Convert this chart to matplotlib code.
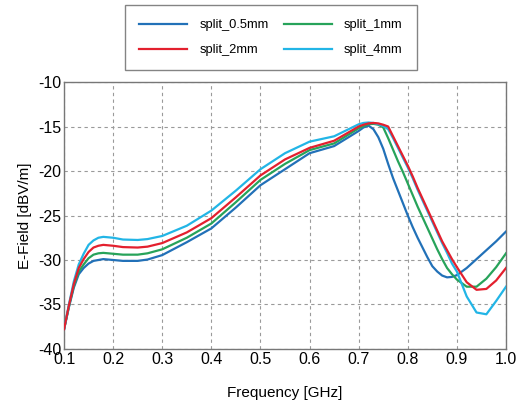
import matplotlib
matplotlib.use("Agg")
import matplotlib.pyplot as plt

plt.rcParams['font.family'] = ['Liberation Sans', 'DejaVu Sans']
plt.rcParams['axes.unicode_minus'] = False

# frequency points (GHz)
freq = [0.10, 0.11, 0.12, 0.13, 0.14, 0.15, 0.16, 0.17, 0.18, 0.20,
        0.22, 0.25, 0.27, 0.30, 0.35, 0.40, 0.45, 0.50, 0.55, 0.60,
        0.65, 0.70, 0.71, 0.72, 0.73, 0.74, 0.75, 0.76, 0.77, 0.78,
        0.79, 0.80, 0.81, 0.82, 0.83, 0.84, 0.85, 0.86, 0.87, 0.88,
        0.89, 0.90, 0.92, 0.94, 0.96, 0.98, 1.00]

# E-field [dBV/m] for each split width
split_05 = [-37.8, -35.3, -33.1, -31.6, -30.9, -30.4, -30.1, -30.0, -29.9, -30.0,
            -30.1, -30.1, -29.95, -29.45, -28.0, -26.45, -24.1, -21.6, -19.8, -18.0,
            -17.2, -15.5, -15.1, -14.9, -15.3, -16.2, -17.5, -19.2, -20.8, -22.2,
            -23.6, -25.0, -26.3, -27.5, -28.6, -29.7, -30.7, -31.3, -31.75, -31.95,
            -31.9, -31.7, -30.9, -29.9, -28.9, -27.9, -26.8]
split_1 = [-37.8, -35.2, -32.9, -31.3, -30.5, -29.8, -29.4, -29.25, -29.2, -29.3,
           -29.4, -29.4, -29.25, -28.8, -27.5, -25.9, -23.5, -21.0, -19.2, -17.65,
           -16.9, -15.2, -14.95, -14.75, -14.7, -14.8, -15.1, -16.3, -17.6, -18.9,
           -20.1, -21.4, -22.7, -24.0, -25.2, -26.4, -27.6, -28.8, -29.9, -30.9,
           -31.6, -32.2, -33.0, -33.0, -32.1, -30.8, -29.25]
split_2 = [-37.8, -35.1, -32.7, -30.9, -29.9, -29.1, -28.6, -28.4, -28.3, -28.4,
           -28.55, -28.6, -28.5, -28.1, -26.9, -25.3, -22.95, -20.5, -18.7, -17.4,
           -16.6, -15.0, -14.8, -14.65, -14.6, -14.65, -14.8, -15.0, -16.1, -17.2,
           -18.3, -19.4, -20.6, -21.9, -23.1, -24.3, -25.5, -26.7, -27.9, -28.9,
           -29.9, -30.8, -32.5, -33.35, -33.25, -32.3, -30.9]
split_4 = [-37.8, -35.0, -32.4, -30.5, -29.3, -28.3, -27.8, -27.5, -27.4, -27.5,
           -27.7, -27.75, -27.65, -27.3, -26.15, -24.45, -22.2, -19.8, -18.0, -16.7,
           -16.1, -14.75, -14.6, -14.55, -14.6, -14.75, -14.95, -15.3, -16.3, -17.4,
           -18.5, -19.6, -20.8, -22.1, -23.3, -24.5, -25.7, -26.9, -28.1, -29.2,
           -30.4, -31.3, -34.1, -35.9, -36.1, -34.6, -33.0]

xticks = [0.1, 0.2, 0.3, 0.4, 0.5, 0.6, 0.7, 0.8, 0.9, 1.0]
yticks = [-40, -35, -30, -25, -20, -15, -10]

fig = plt.figure(figsize=(5.23, 4.05), dpi=100)
ax = fig.add_axes([0.1224, 0.1383, 0.8451, 0.6592])

l05, = ax.plot(freq, split_05, color='#2271b8', lw=1.6, label='split_0.5mm', zorder=3)
l1, = ax.plot(freq, split_1, color='#27a35a', lw=1.6, label='split_1mm', zorder=4)
l4, = ax.plot(freq, split_4, color='#22b5e6', lw=1.6, label='split_4mm', zorder=5)
l2, = ax.plot(freq, split_2, color='#e3202e', lw=1.6, label='split_2mm', zorder=6)

ax.set_xlim(0.1, 1.0)
ax.set_ylim(-40, -10)
ax.set_xticks(xticks)
ax.set_xticklabels(['%.1f' % t for t in xticks])
ax.set_yticks(yticks)
ax.tick_params(length=0, labelsize=11.5, pad=2)
ax.grid(True, ls=(0, (3, 3)), color='#9a9a9a', lw=0.8)
for s in ax.spines.values():
    s.set_color('#777777')
    s.set_linewidth(1.0)

ax.set_xlabel('Frequency [GHz]', fontsize=11, labelpad=14)
ax.set_ylabel('E-Field [dBV/m]', fontsize=11, labelpad=4)

# two columns: 0.5mm / 2mm on the left, 1mm / 4mm on the right
leg = fig.legend([l05, l2, l1, l4],
                 ['split_0.5mm', 'split_2mm', 'split_1mm', 'split_4mm'],
                 ncol=2, loc='upper left',
                 bbox_to_anchor=(125 / 523, 1 - 5 / 405),
                 fontsize=9.3, frameon=True, fancybox=False,
                 handlelength=3.7, handletextpad=0.95, columnspacing=1.2,
                 labelspacing=1.0, borderpad=1.1, borderaxespad=0)
leg.get_frame().set_edgecolor('#666666')
leg.get_frame().set_linewidth(1.0)

fig.savefig('out.png', dpi=100)
